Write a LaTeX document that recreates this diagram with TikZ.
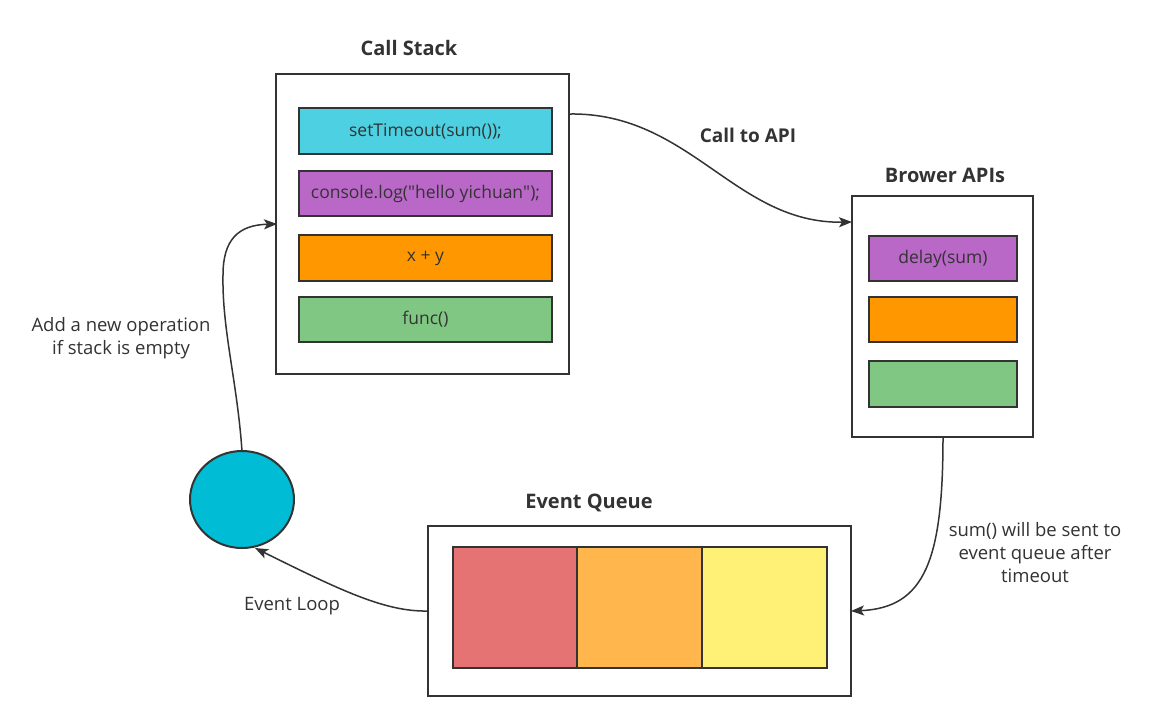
\documentclass[tikz,border=0pt]{standalone}
\usepackage{fontspec}
\setmainfont{Open Sans}
\usetikzlibrary{shapes.geometric,arrows.meta}
\definecolor{ink}{HTML}{333333}
\definecolor{cCyan}{HTML}{4DD0E1}
\definecolor{cPurple}{HTML}{BA68C8}
\definecolor{cOrange}{HTML}{FF9800}
\definecolor{cGreen}{HTML}{81C784}
\definecolor{cRed}{HTML}{E57373}
\definecolor{cLOrange}{HTML}{FFB74D}
\definecolor{cYellow}{HTML}{FFF176}
\definecolor{cLoop}{HTML}{00BCD4}
\tikzset{
  outer/.style={draw=ink, line width=2pt, fill=white, inner sep=0pt},
  cell/.style={draw=ink, line width=2pt, inner sep=0pt, text=ink, font=\fontsize{17.5}{20}\selectfont},
  title/.style={text=ink, font=\fontsize{20}{24}\selectfont\bfseries},
  lbl/.style={text=ink, font=\fontsize{18.5}{23}\selectfont, align=center},
  conn/.style={draw=ink, line width=1.5pt, -{Stealth[length=13pt,width=10pt,inset=3pt]}},
}
\begin{document}
\begin{tikzpicture}[x=1pt,y=-1pt]
\useasboundingbox[fill=white] (0,0) rectangle (1167,721);

% Call stack
\node[title] (tcs) at (409,48) {Call Stack};
\node[outer, minimum width=293pt, minimum height=300pt] (cs) at (422.5,224) {};
\node[cell, fill=cCyan, minimum width=253pt, minimum height=46pt] (s1) at (425.5,131) {setTimeout(sum());};
\node[cell, fill=cPurple, minimum width=253pt, minimum height=45pt] (s2) at (425.5,193.5) {console.log(\textquotedbl hello yichuan\textquotedbl);};
\node[cell, fill=cOrange, minimum width=253pt, minimum height=46pt] (s3) at (425.5,258) {x + y};
\node[cell, fill=cGreen, minimum width=253pt, minimum height=45pt] (s4) at (425.5,319.5) {func()};

% Browser APIs
\node[title] (tba) at (945,175) {Brower APIs};
\node[outer, minimum width=181pt, minimum height=241pt] (ba) at (942.5,316.5) {};
\node[cell, fill=cPurple, minimum width=148pt, minimum height=45pt] (b1) at (943,258.5) {delay(sum)};
\node[cell, fill=cOrange, minimum width=148pt, minimum height=45pt] (b2) at (943,319.5) {};
\node[cell, fill=cGreen, minimum width=148pt, minimum height=46pt] (b3) at (943,384) {};

% Event queue
\node[title] (teq) at (589,503) {Event Queue};
\node[outer, minimum width=423pt, minimum height=170pt] (eq) at (639.5,611) {};
\node[cell, fill=cRed, minimum width=124pt, minimum height=121pt] (q1) at (515,607.5) {};
\node[cell, fill=cLOrange, minimum width=125pt, minimum height=121pt] (q2) at (639.5,607.5) {};
\node[cell, fill=cYellow, minimum width=125pt, minimum height=121pt] (q3) at (764.5,607.5) {};

% Event loop circle
\node[ellipse, draw=ink, line width=2pt, fill=cLoop, minimum width=104pt, minimum height=97pt, inner sep=0pt] (loop) at (242,499.5) {};

% connectors
\coordinate (csR) at (569,114);
\coordinate (baL) at (852,222);
\draw[conn] (csR) .. controls (690,112) and (735,224) .. (baL);
\node[title, font=\fontsize{19}{24}\selectfont\bfseries] (lapi) at (748,135) {Call to API};

\coordinate (baB) at (943,437);
\coordinate (eqR) at (851,611);
\draw[conn] (baB) .. controls (943,560) and (925,608) .. (eqR);
\node[lbl] (lsum) at (1035,553) {sum() will be sent to\\event queue after\\timeout};

\coordinate (eqL) at (428,611);
\coordinate (loopB) at (255,548);
\draw[conn] (eqL) .. controls (385,612) and (340,590) .. (loopB);
\node[lbl] (lloop) at (292,606) {Event Loop};

\coordinate (loopT) at (242,451);
\coordinate (csL) at (277,224);
\draw[conn] (loopT) .. controls (237,380) and (222,330) .. (223,275) .. controls (223,240) and (238,225) .. (csL);
\node[lbl] (ladd) at (121,338) {Add a new operation\\if stack is empty};
\end{tikzpicture}
\end{document}
